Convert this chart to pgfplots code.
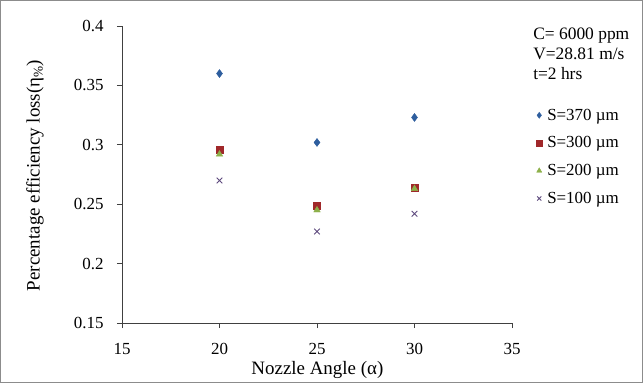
\documentclass[border=0pt]{standalone}
\usepackage{pgfplots}
\pgfplotsset{compat=1.18}
\usepackage{fontspec}
\setmainfont{Liberation Serif}
\definecolor{cBlue}{HTML}{2E5E9E}
\definecolor{cRed}{HTML}{A0282A}
\definecolor{cGreen}{HTML}{8DB04A}
\definecolor{cPurple}{HTML}{5E4A7E}
\begin{document}
\begin{tikzpicture}
\useasboundingbox (0bp,0bp) rectangle (643bp,383bp);
\draw[black!45, line width=1bp] (0.5bp,0.5bp) rectangle (642.5bp,382.5bp);
\begin{axis}[
  at={(122bp,60bp)}, anchor=south west,
  scale only axis, width=390bp, height=297bp,
  xmin=15, xmax=35, ymin=0.15, ymax=0.4,
  xtick={15,20,25,30,35}, ytick={0.15,0.2,0.25,0.3,0.35,0.4},
  axis x line=bottom, axis y line=left,
  axis line style={black!75, -, line width=0.8bp},
  tick style={black!75, line width=0.8bp},
  tick align=outside, major tick length=5bp,
  /pgf/number format/assume math mode=true,
  ticklabel style={font=\fontsize{17}{19}\selectfont},
  yticklabel style={xshift=-10bp},
  xticklabel style={yshift=-12bp},
  xlabel={Nozzle Angle (α)},
  ylabel={Percentage efficiency loss(η\textsubscript{\%})},
  label style={font=\fontsize{19}{21}\selectfont},
  xlabel style={at={(axis description cs:0.501,-0.158)}, anchor=center},
  ylabel style={at={(axis description cs:-0.223,0.497)}, anchor=center},
  clip=false,
  legend style={draw=none, fill=none, at={(1.054,0.735)}, anchor=north west,
    font=\fontsize{17}{19}\selectfont, row sep=11bp,
    nodes={inner xsep=5bp}},
  legend cell align=left,
  legend image post style={mark size=3bp},
]
\addplot[only marks, mark=diamond*, mark size=4bp, color=cBlue] coordinates {(20,0.360) (25,0.302) (30,0.323)};
\addlegendentry{S=370 µm}
\addplot[only marks, mark=square*, mark size=3.5bp, color=cRed] coordinates {(20,0.296) (25,0.249) (30,0.264)};
\addlegendentry{S=300 µm}
\addplot[only marks, mark=triangle*, mark size=3.8bp, color=cGreen] coordinates {(20,0.292) (25,0.245) (30,0.263)};
\addlegendentry{S=200 µm}
\addplot[only marks, mark=x, mark size=4bp, line width=0.9bp, color=cPurple] coordinates {(20,0.270) (25,0.227) (30,0.242)};
\addlegendentry{S=100 µm}
\node[anchor=north west, align=left, font=\fontsize{17.5}{20}\selectfont, inner sep=0pt]
  at (rel axis cs:1.054,0.995) {C= 6000 ppm\\V=28.81 m/s\\t=2 hrs};
\end{axis}
\end{tikzpicture}
\end{document}
